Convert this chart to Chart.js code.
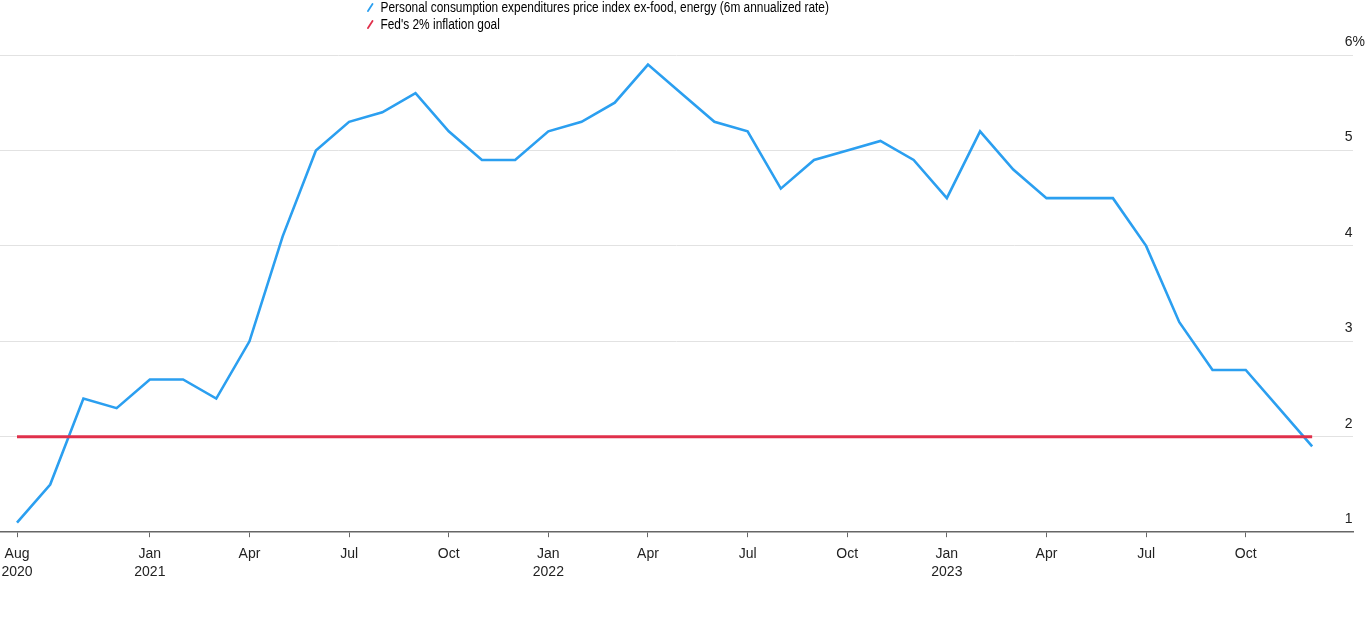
<!DOCTYPE html>
<html>
<head>
<meta charset="utf-8">
<script src="https://cdn.jsdelivr.net/npm/chart.js@4.4.1/dist/chart.umd.min.js"></script>
<style>
  html, body { margin: 0; padding: 0; background: #fff; }
  #wrap { position: relative; width: 1366px; height: 641px; }
  #legend { position: absolute; left: 366px; top: 0; font: 14px "Liberation Sans", Arial, sans-serif; color: #000; transform: scaleX(0.85); transform-origin: 0 0; }
  #legend div { height: 17px; line-height: 15px; white-space: nowrap; }
  #legend i { display: inline-block; width: 2px; height: 11px; margin: 0 11px 0 4px; transform: rotate(38deg); vertical-align: -1px; border-radius: 1px; }
</style>
</head>
<body>
<div id="wrap">
  <canvas id="pce-chart" width="1366" height="641"></canvas>
  <div id="legend">
    <div><i style="background:#2b9ff0"></i>Personal consumption expenditures price index ex-food, energy (6m annualized rate)</div>
    <div><i style="background:#e0304b"></i>Fed's 2% inflation goal</div>
  </div>
</div>
<script>
// monthly readings, Aug 2020 .. Nov 2023
const months = ['2020-08','2020-09','2020-10','2020-11','2020-12',
  '2021-01','2021-02','2021-03','2021-04','2021-05','2021-06','2021-07','2021-08','2021-09','2021-10','2021-11','2021-12',
  '2022-01','2022-02','2022-03','2022-04','2022-05','2022-06','2022-07','2022-08','2022-09','2022-10','2022-11','2022-12',
  '2023-01','2023-02','2023-03','2023-04','2023-05','2023-06','2023-07','2023-08','2023-09','2023-10','2023-11'];
const corePce = [1.1, 1.5, 2.4, 2.3, 2.6,
  2.6, 2.4, 3.0, 4.1, 5.0, 5.3, 5.4, 5.6, 5.2, 4.9, 4.9, 5.2,
  5.3, 5.5, 5.9, 5.6, 5.3, 5.2, 4.6, 4.9, 5.0, 5.1, 4.9, 4.5,
  5.2, 4.8, 4.5, 4.5, 4.5, 4.0, 3.2, 2.7, 2.7, 2.3, 1.9];
const fedGoal = 2;

// x tick positions (index into months) and their labels
const tickIdx = [0, 4, 7, 10, 13, 16, 19, 22, 25, 28, 31, 34, 37];
const tickLabels = [['Aug', '2020'], ['Jan', '2021'], 'Apr', 'Jul', 'Oct', ['Jan', '2022'], 'Apr', 'Jul', 'Oct', ['Jan', '2023'], 'Apr', 'Jul', 'Oct'];
const yTicks = [1, 2, 3, 4, 5, 6];

const font = { family: '"Liberation Sans", Arial, sans-serif', size: 14, lineHeight: 1.35 };

const canvas = document.querySelector('#pce-chart');
const pce_chart = new Chart(canvas, {
  type: 'line',
  data: {
    datasets: [
      {
        label: 'Personal consumption expenditures price index ex-food, energy (6m annualized rate)',
        data: corePce.map((v, i) => ({ x: i, y: v })),
        borderColor: '#2b9ff0',
        borderWidth: 2.6,
        pointRadius: 0,
        tension: 0,
      },
      {
        label: "Fed's 2% inflation goal",
        data: months.map((m, i) => ({ x: i, y: fedGoal })),
        borderColor: '#e0304b',
        borderWidth: 3,
        pointRadius: 0,
        order: -1,
      }
    ]
  },
  options: {
    responsive: false,
    animation: false,
    layout: { padding: { top: 55, right: 13, left: 0, bottom: 52 } },
    plugins: {
      legend: { display: false },
      tooltip: { enabled: false },
    },
    scales: {
      x: {
        type: 'linear',
        min: -0.512,
        max: 40.23,
        afterBuildTicks: s => { s.ticks = tickIdx.map(v => ({ value: v })); },
        afterFit: s => { s.paddingLeft = 0; s.paddingRight = 0; },
        grid: { drawOnChartArea: false, drawTicks: true, tickLength: 5, tickColor: '#666', tickWidth: 1 },
        border: { color: '#666', width: 1.5 },
        ticks: {
          autoSkip: false,
          maxRotation: 0,
          padding: 7,
          color: '#222',
          font: font,
          callback: v => tickLabels[tickIdx.indexOf(v)],
        },
      },
      y: {
        position: 'right',
        min: 1,
        max: 6,
        afterBuildTicks: s => { s.ticks = yTicks.map(v => ({ value: v })); },
        afterFit: s => { s.width = 0; },
        grid: {
          drawTicks: false,
          color: c => c.tick && c.tick.value === 1 ? 'rgba(0,0,0,0)' : '#e2e2e2',
          lineWidth: 1,
        },
        border: { display: false },
        ticks: {
          mirror: true,
          crossAlign: 'far',
          labelOffset: -13,
          padding: 12,
          color: '#222',
          font: font,
          callback: v => v === 6 ? '6%' : String(v),
        },
      },
    },
  }
});
</script>
</body>
</html>
